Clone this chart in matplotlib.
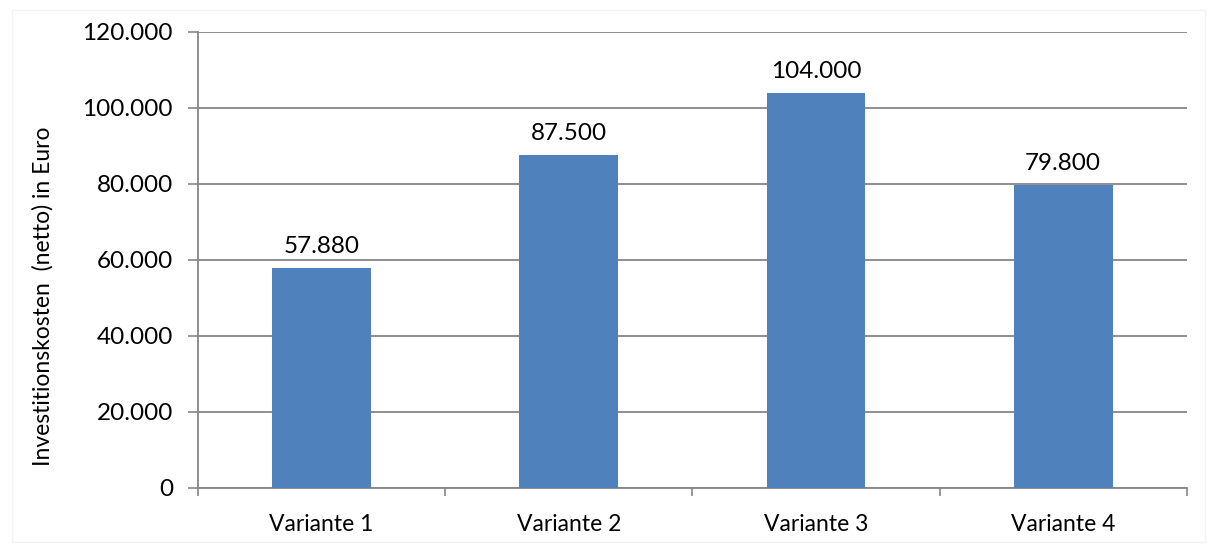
import numpy as np
import matplotlib.pyplot as plt
from matplotlib.patches import Rectangle

plt.rcParams['font.family'] = ['Lato', 'DejaVu Sans']

varianten = ['Variante 1', 'Variante 2', 'Variante 3', 'Variante 4']
kosten = [57880, 87500, 104000, 79800]
kosten_labels = ['57.880', '87.500', '104.000', '79.800']
y_ticks = [0, 20000, 40000, 60000, 80000, 100000, 120000]
y_tick_labels = ['0', '20.000', '40.000', '60.000', '80.000', '100.000', '120.000']

bar_color = '#4f81bd'
grid_color = '#868686'

fig = plt.figure(figsize=(12.11, 5.47), dpi=100)
ax = fig.add_axes([0.1635, 0.108, 0.8165, 0.8335])

# faint frame around the chart area
fig.patches.append(Rectangle((0.01, 0.01), 0.985, 0.972, transform=fig.transFigure,
                             fill=False, edgecolor='#f3f3f3', linewidth=1.0))

x = np.arange(len(varianten))
ax.bar(x, kosten, width=0.4, color=bar_color, zorder=3)

for xi, val, lab in zip(x, kosten, kosten_labels):
    ax.annotate(lab, xy=(xi, val), xytext=(0, 8), textcoords='offset points',
                ha='center', va='bottom', fontsize=17.5, color='black')

ax.set_xlim(-0.5, len(varianten) - 0.5)
ax.set_ylim(0, 120000)
ax.set_yticks(y_ticks)
ax.set_yticklabels(y_tick_labels, fontsize=17.5)
ax.set_xticks(x)
ax.set_xticklabels(varianten, fontsize=16.5)
ax.set_xticks(np.arange(-0.5, len(varianten)), minor=True)
ax.tick_params(axis='x', which='major', length=0, pad=19)
ax.tick_params(axis='x', which='minor', length=6, width=1.2, color=grid_color)
ax.tick_params(axis='y', length=7, width=1.2, color=grid_color, pad=11)

ax.yaxis.grid(True, color=grid_color, linewidth=1.3, zorder=0)
ax.set_axisbelow(True)
for side in ['top', 'right']:
    ax.spines[side].set_visible(False)
for side in ['left', 'bottom']:
    ax.spines[side].set_color(grid_color)
    ax.spines[side].set_linewidth(1.3)

ax.set_ylabel('Investitionskosten  (netto) in Euro', fontsize=16.5,
              va='center', ha='center')
ax.yaxis.set_label_coords(-0.157, 0.42)

fig.savefig('out.png', dpi=100)
